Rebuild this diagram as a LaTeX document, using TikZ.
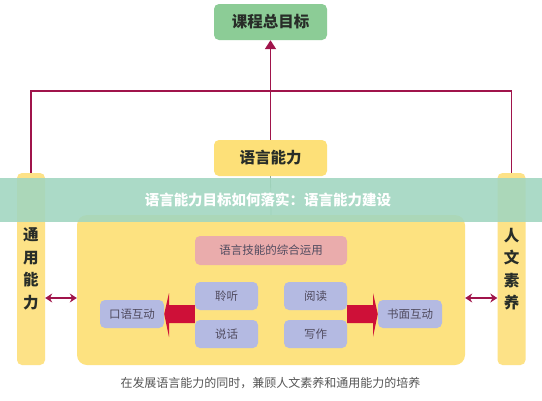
\documentclass[tikz,border=0pt]{standalone}
\usepackage{fontspec}
\setmainfont{Noto Sans CJK SC}
\usetikzlibrary{arrows.meta}
\definecolor{goalgreen}{RGB}{140,204,150}
\definecolor{ybox}{RGB}{253,224,120}
\definecolor{ycol}{RGB}{253,226,135}
\definecolor{ybig}{RGB}{253,226,128}
\definecolor{pinkbox}{RGB}{234,172,172}
\definecolor{lav}{RGB}{180,186,226}
\definecolor{blockred}{RGB}{206,16,56}
\definecolor{crim}{RGB}{160,20,75}
\definecolor{darktxt}{RGB}{40,45,40}
\definecolor{innertxt}{RGB}{80,75,95}
\definecolor{captxt}{RGB}{85,85,85}
\definecolor{mint}{RGB}{160,214,192}
\definecolor{stemline}{RGB}{150,170,140}
\tikzset{
  bigtitle/.style={rounded corners=5pt, minimum width=113pt, minimum height=36pt, inner sep=0pt, text=darktxt, font=\fontsize{15.5}{18}\selectfont\bfseries},
  colbox/.style={fill=ycol, rounded corners=5pt, minimum width=28pt, minimum height=192pt, inner sep=0pt, text=darktxt, align=center, font=\fontsize{15.5}{22.5}\selectfont\bfseries},
  skillbox/.style={fill=lav, rounded corners=5pt, minimum width=63pt, minimum height=28pt, inner sep=0pt, text=innertxt, font=\fontsize{11.5}{14}\selectfont},
  link/.style={draw=crim, line width=1.8pt},
  dblarrow/.style={draw=crim, line width=1.8pt, {Stealth[length=7pt,width=9pt]}-{Stealth[length=7pt,width=9pt]}},
  blockarrow/.style={fill=blockred, draw=none}
}
\begin{document}
\begin{tikzpicture}[x=1pt,y=-1pt]
\fill[white] (0,0) rectangle (542,400);
\useasboundingbox (0,0) rectangle (542,400);
% top goal
\node[bigtitle, fill=goalgreen] (goal) at (270.5,22) {课程总目标};
\node[bigtitle, fill=ybox] (lang) at (270.5,158) {语言能力};
% columns
\node[colbox] (leftcol) at (31,269) {通\\用\\能\\力};
\node[colbox] (rightcol) at (511.5,269) {人\\文\\素\\养};
% big box
\node[fill=ybig, rounded corners=10pt, minimum width=388pt, minimum height=150pt, inner sep=0pt] (big) at (271,290) {};
% stem line
\draw[stemline, line width=0.8pt] (lang.south) -- (big.north);
% inner boxes
\node[fill=pinkbox, rounded corners=5pt, minimum width=152pt, minimum height=29pt, inner sep=0pt, text=innertxt, font=\fontsize{11.5}{14}\selectfont] (synth) at (271,250.5) {语言技能的综合运用};
\node[skillbox] (listen) at (226.5,296) {聆听};
\node[skillbox] (speak) at (226.5,334) {说话};
\node[skillbox] (read) at (315.5,296) {阅读};
\node[skillbox] (write) at (315.5,334) {写作};
\node[skillbox, minimum width=64pt] (oral) at (132,314) {口语互动};
\node[skillbox, minimum width=64pt] (written) at (410,314) {书面互动};
% connectors
\coordinate (hl) at (0,91);
\coordinate (ay) at (0,298);
\draw[link, -{Triangle[length=9pt,width=11pt]}] (lang.north) -- (goal.south);
\draw[link] (leftcol.north) -- (leftcol.north |- hl) -- (rightcol.north |- hl) -- (rightcol.north);
\draw[dblarrow] (leftcol.east |- ay) -- (big.west |- ay);
\draw[dblarrow] (big.east |- ay) -- (rightcol.west |- ay);
% block arrows
\fill[blockarrow] (listen.west |- 0,305) -- (169,305) -- (169,293) -- (oral.east) -- (169,337) -- (169,323) -- (listen.west |- 0,323) -- cycle;
\fill[blockarrow] (read.east |- 0,305) -- (373,305) -- (373,293) -- (written.west) -- (373,337) -- (373,323) -- (read.east |- 0,323) -- cycle;
% caption
\node[text=captxt, font=\fontsize{12}{14}\selectfont] (cap) at (270.5,383) {在发展语言能力的同时，兼顾人文素养和通用能力的培养};
% banner overlay
\fill[mint, opacity=0.88] (0,178) rectangle (542,222);
\node[text=white, font=\fontsize{14.5}{16}\selectfont\bfseries] (banner) at (268,200) {语言能力目标如何落实：语言能力建设};
\end{tikzpicture}
\end{document}
